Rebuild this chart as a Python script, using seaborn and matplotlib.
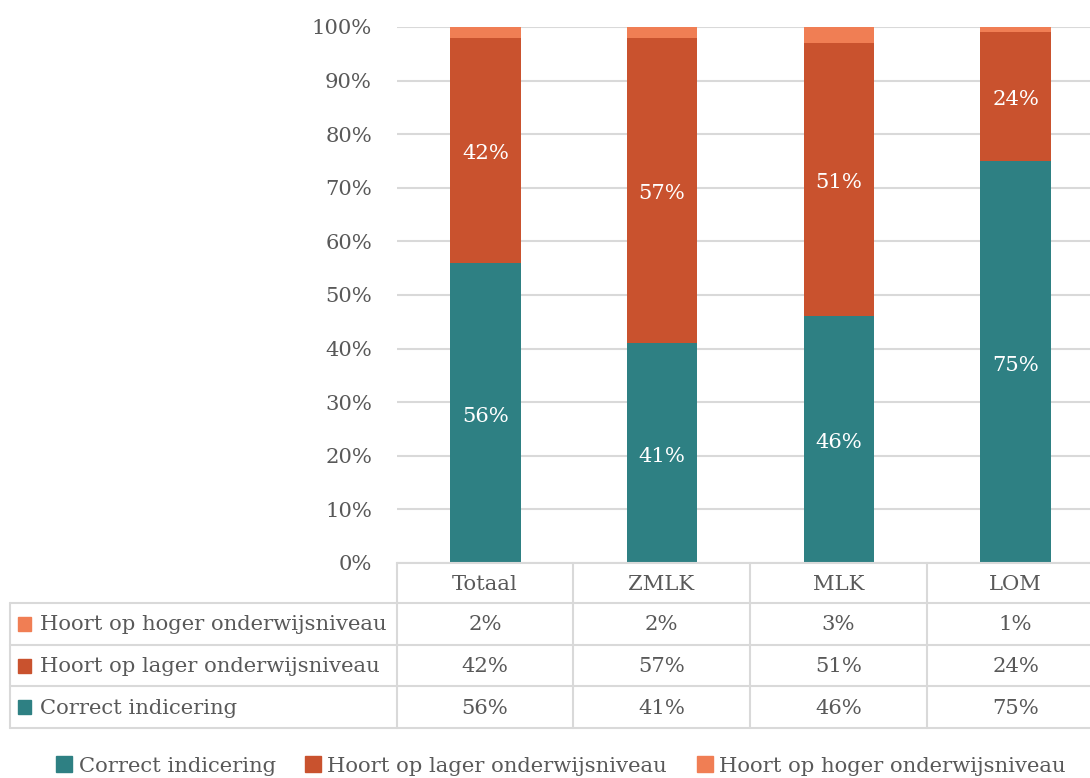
import seaborn as sns
import matplotlib.pyplot as plt
from matplotlib.patches import Patch, Rectangle
from matplotlib.lines import Line2D

categories = ["Totaal", "ZMLK", "MLK", "LOM"]
correct = [56, 41, 46, 75]
lager = [42, 57, 51, 24]
hoger = [2, 2, 3, 1]
series_names = ["Correct indicering", "Hoort op lager onderwijsniveau", "Hoort op hoger onderwijsniveau"]
colors = ["#2e8083", "#c9522e", "#f07e54"]

sns.set_style("white")
plt.rcParams["font.family"] = ["DejaVu Serif", "DejaVu Sans"]
TXT = "#595959"
GRID = "#d9d9d9"
FS = 15.2

W, H = 1090, 778
fig = plt.figure(figsize=(W / 100, H / 100), dpi=100)


def fx(px):
    return px / W


def fy(py):
    return 1 - py / H


ax = fig.add_axes([fx(397), fy(563), fx(1104) - fx(397), fy(27) - fy(563)])

bottom2 = [a + b for a, b in zip(correct, lager)]
sns.barplot(x=categories, y=correct, color=colors[0], width=0.4, ax=ax, saturation=1, linewidth=0)
sns.barplot(x=categories, y=lager, bottom=correct, color=colors[1], width=0.4, ax=ax, saturation=1, linewidth=0)
sns.barplot(x=categories, y=hoger, bottom=bottom2, color=colors[2], width=0.4, ax=ax, saturation=1, linewidth=0)

for i in range(len(categories)):
    ax.text(i, correct[i] / 2 - 0.6, f"{correct[i]}%", ha="center", va="center", color="white", fontsize=FS)
    ax.text(i, correct[i] + lager[i] / 2 - 0.6, f"{lager[i]}%", ha="center", va="center", color="white", fontsize=FS)

ax.set_ylim(0, 100)
ax.set_xlim(-0.5, 3.5)
ax.set_yticks(range(0, 101, 10))
ax.set_yticklabels([f"{v}%" for v in range(0, 101, 10)], fontsize=FS, color=TXT)
ax.set_xticks([])
ax.tick_params(axis="y", length=0, pad=18)
ax.yaxis.grid(True, color=GRID, lw=1.5)
ax.set_axisbelow(True)
sns.despine(ax=ax, left=True)
ax.spines["bottom"].set_color(GRID)
ax.spines["bottom"].set_linewidth(1.5)

# data table under the plot
col_edges = [397, 573, 750, 927, 1104]
row_edges = [563, 603, 645, 686, 728]


def line(x0, y0, x1, y1):
    fig.add_artist(Line2D([fx(x0), fx(x1)], [fy(y0), fy(y1)], color=GRID, lw=1.5))


for x in col_edges[:-1]:
    line(x, 563, x, 728)
line(10, 603, 10, 728)
for y in row_edges[1:]:
    line(10, y, 1090, y)

for i, cat in enumerate(categories):
    cx = (col_edges[i] + col_edges[i + 1]) / 2
    fig.text(fx(cx), fy(585), cat, ha="center", va="center", fontsize=FS, color=TXT)

rows = [(series_names[2], hoger, colors[2]), (series_names[1], lager, colors[1]), (series_names[0], correct, colors[0])]
for r, (name, vals, c) in enumerate(rows):
    yc = (row_edges[r + 1] + row_edges[r + 2]) / 2
    fig.add_artist(Rectangle((fx(18), fy(yc + 7)), fx(13), fy(0) - fy(14), color=c))
    fig.text(fx(40), fy(yc + 1), name, ha="left", va="center", fontsize=FS, color=TXT)
    for i, v in enumerate(vals):
        cx = (col_edges[i] + col_edges[i + 1]) / 2
        fig.text(fx(cx), fy(yc + 1), f"{v}%", ha="center", va="center", fontsize=FS, color=TXT)

handles = [Patch(color=c, label=n) for c, n in zip(colors, series_names)]
fig.legend(handles=handles, loc="center", bbox_to_anchor=(fx(561), fy(766)), ncol=3, frameon=False,
           fontsize=FS, handlelength=0.75, handleheight=0.8, handletextpad=0.3, columnspacing=1.4,
           labelcolor=TXT)

fig.savefig("out.png", dpi=100)
